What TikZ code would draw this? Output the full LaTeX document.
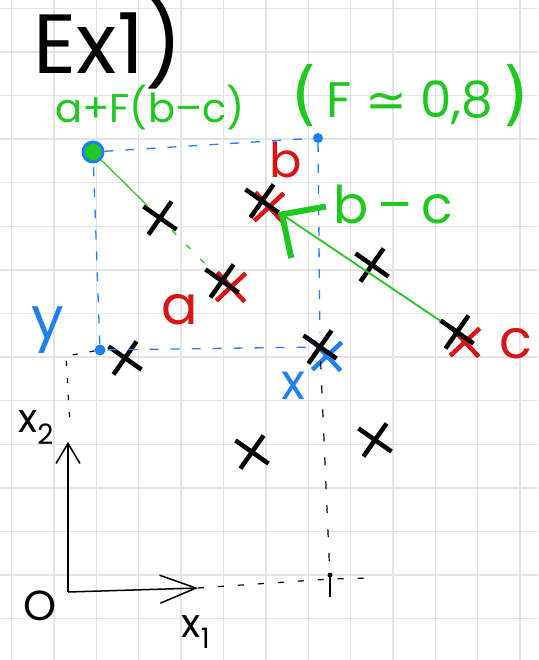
\documentclass[tikz,border=0pt]{standalone}
\usepackage{amsmath}
\usepackage{fontspec}
\setmainfont{Poppins}
\newfontfamily\dejavu{DejaVu Sans}
\usepackage{tikz}
\usetikzlibrary{arrows.meta,shapes.misc,calc}
\definecolor{penblue}{HTML}{1E80F2}
\definecolor{pengreen}{HTML}{1FC81F}
\definecolor{penred}{HTML}{D81414}
\definecolor{gridgray}{HTML}{E4E4E4}

\begin{document}
\begin{tikzpicture}[x=1pt, y=-1pt,
  gridline/.style={draw=gridgray, line width=1.3pt},
  crossmark/.style={cross out, draw=black, line width=4.5pt, minimum size=24pt, inner sep=0pt, rotate=10},
  redcross/.style={crossmark, draw=penred, line width=4.5pt, rotate=-12},
  bluecross/.style={crossmark, draw=penblue, line width=4.5pt, rotate=-12},
  bigpen/.style={font=\fontsize{#1}{#1}\selectfont}]
  \useasboundingbox (0,0) rectangle (538,660);

  % Squared paper
  \foreach \gx in {0,...,12}
    \draw[gridline] ({11.7+42.36*\gx},0) -- ({11.7+42.36*\gx},660);
  \foreach \gy in {0,...,14}
    \draw[gridline] (0,{8.3+43.6*\gy}) -- (538,{8.3+43.6*\gy});

  % Title
  \node[bigpen=84] (title) at (108,42) {Ex1)};

  % Green formulas
  \node[bigpen=40, text=pengreen] (trial) at (150,108) {a+F(b–c)};
  \node[bigpen=50, text=pengreen] (fval) at (410,96)
    {{\fontsize{70}{70}\selectfont\dejavu(}\,F {\dejavu ≃} 0,8\,{\fontsize{70}{70}\selectfont\dejavu)}};
  \node[bigpen=52, text=pengreen] (diff) at (393,204) {b\,–\,c};

  % Trial point and corners of the box
  \node[circle, draw=penblue, line width=3pt, fill=pengreen, minimum size=20pt, inner sep=0pt] (aF) at (93,152) {};
  \node[circle, fill=penblue, minimum size=10pt, inner sep=0pt] (tr) at (318,138) {};
  \node[circle, fill=penblue, minimum size=11pt, inner sep=0pt] (ydot) at (100,350) {};

  % Population (crosses)
  \node[crossmark] (p1) at (160,218) {};
  \node[redcross] at (269,207) {};
  \node[crossmark] (b) at (262,201) {};
  \node[redcross] at (231,287) {};
  \node[crossmark] (a) at (222,281) {};
  \node[crossmark] (p2) at (372,265) {};
  \node[redcross] at (465,342) {};
  \node[crossmark] (c) at (457,332) {};
  \node[crossmark] (p3) at (125,358) {};
  \node[bluecross] at (327,356) {};
  \node[crossmark] (x) at (320,347) {};
  \node[crossmark] (p4) at (252,452) {};
  \node[crossmark] (p5) at (375,440) {};

  % Labels of the points
  \node[bigpen=48, text=penred] (blab) at (286,160) {b};
  \node[bigpen=54, text=penred] (alab) at (180,310) {a};
  \node[bigpen=54, text=penred] (clab) at (516,344) {c};
  \node[bigpen=58, text=penblue] (ylab) at (48,330) {y};
  \node[bigpen=50, text=penblue] (xlab) at (293,386) {x};

  % Box spanned by x and y
  \draw[penblue, line width=1.3pt, dash pattern=on 9pt off 12pt] (aF) -- (tr) -- (x) -- (ydot) -- (aF);

  % Difference vector and mutation
  \draw[pengreen, line width=1.8pt, -{Straight Barb[length=32pt, width=62pt, line width=6pt]}] (c) -- (b);
  \draw[pengreen, line width=1.2pt] (aF) -- (p1);
  \draw[pengreen, line width=1.2pt, dash pattern=on 6pt off 14pt] (p1) -- (a);

  % Axes
  \coordinate (O) at (68,592);
  \coordinate (x2tip) at (68,442);
  \coordinate (x1tip) at (198,588);
  \draw[line width=1.5pt, -{Straight Barb[length=20pt, width=24pt, line width=1.5pt]}] (O) -- (x2tip);
  \draw[line width=1.5pt, -{Straight Barb[length=36pt, width=28pt, line width=1.5pt]}] (O) -- (x1tip);
  \node[bigpen=40] (x2lab) at (36,428) {x\textsubscript{2}};
  \node[bigpen=40] (x1lab) at (196,632) {x\textsubscript{1}};
  \node[bigpen=42] (olab) at (40,606) {O};

  % Projections onto the axes
  \coordinate (ycorner) at (66,356);
  \coordinate (yend) at (70,425);
  \coordinate (f) at (330,579);
  \coordinate (x1end) at (372,578);
  \draw[line width=1.2pt, dash pattern=on 5pt off 12pt] (ydot) -- (ycorner) -- (yend);
  \draw[line width=1.2pt, dash pattern=on 8pt off 16pt] (x) -- (f);
  \draw[line width=1.2pt, dash pattern=on 6pt off 14pt] (x1tip) -- (f) -- (x1end);
  \draw[line width=1.4pt] ($(f)+(0,-4)$) -- ++(0,22);
  \fill (f) ++(0,-4) circle (2.5pt);
\end{tikzpicture}
\end{document}
